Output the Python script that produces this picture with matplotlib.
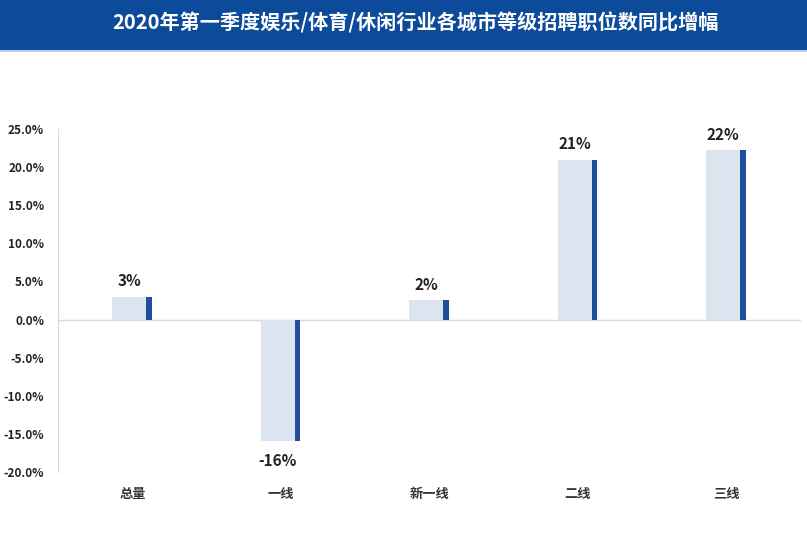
import matplotlib.pyplot as plt
import matplotlib.patches as patches
import numpy as np

plt.rcParams['font.family'] = ['Noto Sans CJK SC', 'DejaVu Sans']

# data
categories = ["总量", "一线", "新一线", "二线", "三线"]
values = [3.0, -15.9, 2.5, 20.9, 22.2]
value_labels = ["3%", "-16%", "2%", "21%", "22%"]
title = "2020年第一季度娱乐/体育/休闲行业各城市等级招聘职位数同比增幅"

fig = plt.figure(figsize=(8.07, 5.39), dpi=100)

# title banner
fig.patches.append(patches.Rectangle((0, 0.907), 1, 0.093, transform=fig.transFigure,
                                     facecolor="#0c4a9a", edgecolor="none"))
fig.patches.append(patches.Rectangle((0, 0.903), 1, 0.004, transform=fig.transFigure,
                                     facecolor="#b9d0ee", edgecolor="none"))
fig.text(0.515, 0.957, title, color="white", fontsize=14.5, fontweight="bold",
         ha="center", va="center")

ax = fig.add_axes([0.072, 0.124, 0.92, 0.637])
x = np.arange(len(categories))
ax.bar(x - 0.02, values, width=0.23, color="#dce4f0", zorder=2)
ax.bar(x + 0.112, values, width=0.035, color="#1f4e9c", zorder=3)

for xi, v, lab in zip(x, values, value_labels):
    if v >= 0:
        ax.text(xi - 0.02, v + 1.0, lab, ha="center", va="bottom",
                fontsize=11, fontweight="bold", color="#222222")
    else:
        ax.text(xi - 0.02, v - 1.6, lab, ha="center", va="top",
                fontsize=11, fontweight="bold", color="#222222")

ax.axhline(0, color="#d9d9d9", linewidth=1, zorder=1)
ax.set_xlim(-0.5, len(categories) - 0.5)
ax.set_ylim(-20, 25)
ax.set_yticks(np.arange(-20, 26, 5))
ax.set_yticklabels([f"{t:.1f}%" for t in np.arange(-20, 26, 5)],
                   fontsize=8.5, fontweight="bold", color="#222222")
ax.set_xticks(x)
ax.set_xticklabels(categories, fontsize=9.5, fontweight="bold", color="#333333")
ax.tick_params(axis="both", length=0)
ax.tick_params(axis="x", pad=11)
ax.tick_params(axis="y", pad=10)
for s in ["top", "right", "bottom"]:
    ax.spines[s].set_visible(False)
ax.spines["left"].set_color("#d9d9d9")

fig.savefig("out.png", dpi=100)
